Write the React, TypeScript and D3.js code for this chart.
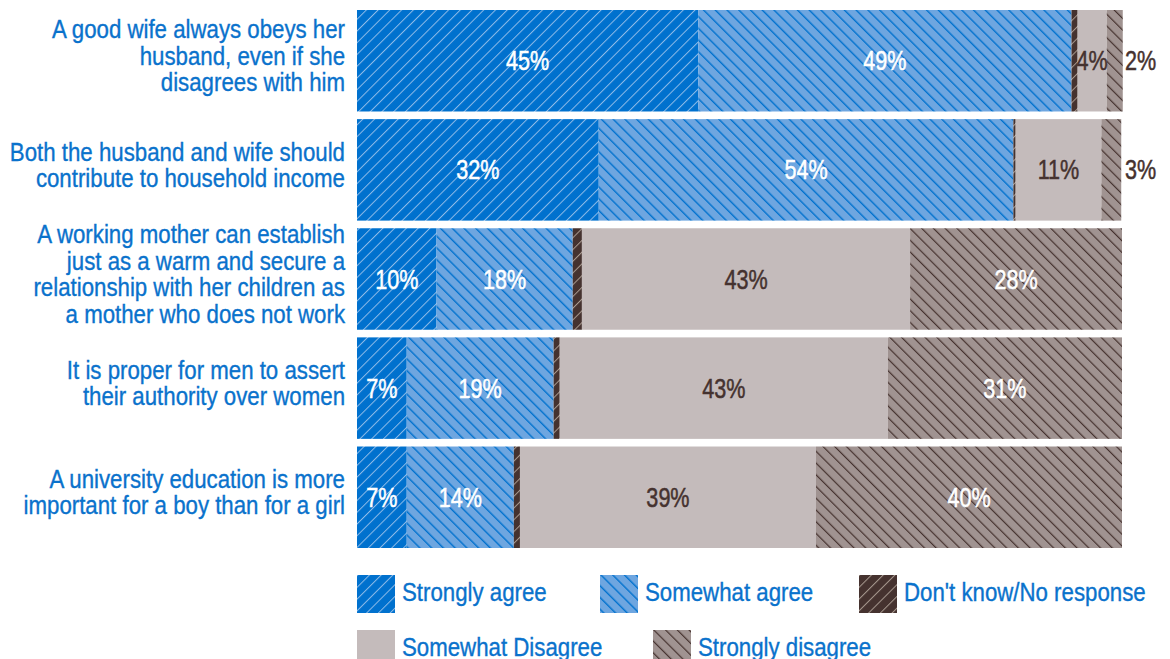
import React from "react";
import * as d3 from "d3";

const categories = [
  ["A good wife always obeys her", "husband, even if she", "disagrees with him"],
  ["Both the husband and wife should", "contribute to household income"],
  ["A working mother can establish", "just as a warm and secure a", "relationship with her children as", "a mother who does not work"],
  ["It is proper for men to assert", "their authority over women"],
  ["A university education is more", "important for a boy than for a girl"],
];

const seriesNames = ["Strongly agree", "Somewhat agree", "Don't know/No response", "Somewhat Disagree", "Strongly disagree"];

const stronglyAgree = [44.6, 31.6, 10.4, 6.5, 6.5];
const somewhatAgree = [48.8, 54.2, 17.8, 19.2, 14.0];
const dontKnow = [0.8, 0.3, 1.2, 0.8, 0.8];
const somewhatDisagree = [3.8, 11.2, 42.9, 42.9, 38.7];
const stronglyDisagree = [2.1, 2.6, 27.7, 30.6, 40.0];

const FONT = "'Liberation Sans', Arial, sans-serif";
const BLUE_TEXT = "#0A72CC";
const DARK = "#45322F";
const SX = 0.89;
const SXN = 0.8;

const fills = ["url(#pSA)", "url(#pWA)", "url(#pDK)", "#C4BBBB", "url(#pSD)"];
const labelColors = ["#fff", "#fff", "#fff", DARK, "#fff"];

export default function App() {
  const W = 1170, H = 659;
  const series = [stronglyAgree, somewhatAgree, dontKnow, somewhatDisagree, stronglyDisagree];
  const x = d3.scaleLinear().domain([0, 100]).range([357, 1122]);
  const y = d3.scaleBand<number>().domain(d3.range(categories.length)).range([10, 548]).paddingInner(0.07);

  const legendPos = [
    [357, 575], [600, 575], [859, 575], [357, 630], [653, 630],
  ];

  return (
    <svg width={W} height={H} style={{ position: "absolute", left: 0, top: 0, fontFamily: FONT }}>
      <defs>
        <pattern id="pSA" patternUnits="userSpaceOnUse" width="8.3" height="8.3" patternTransform="rotate(45)">
          <rect width="8.3" height="8.3" fill="#0071CE" />
          <line x1="0.5" y1="0" x2="0.5" y2="8.3" stroke="#8EBBE8" strokeWidth="1" />
        </pattern>
        <pattern id="pWA" patternUnits="userSpaceOnUse" width="8.3" height="8.3" patternTransform="rotate(-45)">
          <rect width="8.3" height="8.3" fill="#6EA6E0" />
          <line x1="0.7" y1="0" x2="0.7" y2="8.3" stroke="#0071CE" strokeWidth="1.4" />
        </pattern>
        <pattern id="pDK" patternUnits="userSpaceOnUse" width="8.3" height="8.3" patternTransform="rotate(45)">
          <rect width="8.3" height="8.3" fill="#45322F" />
          <line x1="0.5" y1="0" x2="0.5" y2="8.3" stroke="#A8998F" strokeWidth="1" />
        </pattern>
        <pattern id="pSD" patternUnits="userSpaceOnUse" width="8.3" height="8.3" patternTransform="rotate(-45)">
          <rect width="8.3" height="8.3" fill="#A09391" />
          <line x1="0.6" y1="0" x2="0.6" y2="8.3" stroke="#45322F" strokeWidth="1.2" />
        </pattern>
      </defs>

      {categories.map((lines, i) => {
        const y0 = y(i)!;
        const bh = y.bandwidth();
        const cy = y0 + bh / 2;
        let acc = 0;
        const lh = 26.5;
        return (
          <g key={i}>
            <g transform={`translate(345,0) scale(${SX},1)`}>
              <text textAnchor="end" fill={BLUE_TEXT} stroke={BLUE_TEXT} strokeWidth={0.35} fontSize={25}>
                {lines.map((l, k) => (
                  <tspan key={k} x={0} y={cy + 4 + (k - (lines.length - 1) / 2) * lh}>{l}</tspan>
                ))}
              </text>
            </g>
            {series.map((s, j) => {
              const v = s[i];
              const x0 = x(acc);
              acc += v;
              const x1 = x(acc);
              return <rect key={j} x={x0} y={y0} width={x1 - x0} height={bh} fill={fills[j]} />;
            })}
            {(() => {
              let a = 0;
              return series.map((s, j) => {
                const v = s[i];
                const x0 = x(a);
                a += v;
                const x1 = x(a);
                if (j === 2) return null;
                const outside = x1 - x0 < 22;
                const tx = outside ? x(100) + 3 : (x0 + x1) / 2;
                const col = outside ? DARK : labelColors[j];
                return (
                  <text key={"l" + j}
                    transform={`translate(${tx},${cy + 9.5}) scale(${SXN},1)`}
                    textAnchor={outside ? "start" : "middle"}
                    fontSize={27}
                    fill={col} stroke={col} strokeWidth={0.5}>
                    {Math.round(v)}%
                  </text>
                );
              });
            })()}
          </g>
        );
      })}

      {seriesNames.map((n, j) => (
        <g key={n} transform={`translate(${legendPos[j][0]},${legendPos[j][1]})`}>
          <rect width={38} height={38} fill={fills[j]} />
          <text transform={`translate(45,26) scale(${SX},1)`} fontSize={25} fill={BLUE_TEXT} stroke={BLUE_TEXT} strokeWidth={0.35}>{n}</text>
        </g>
      ))}
    </svg>
  );
}
